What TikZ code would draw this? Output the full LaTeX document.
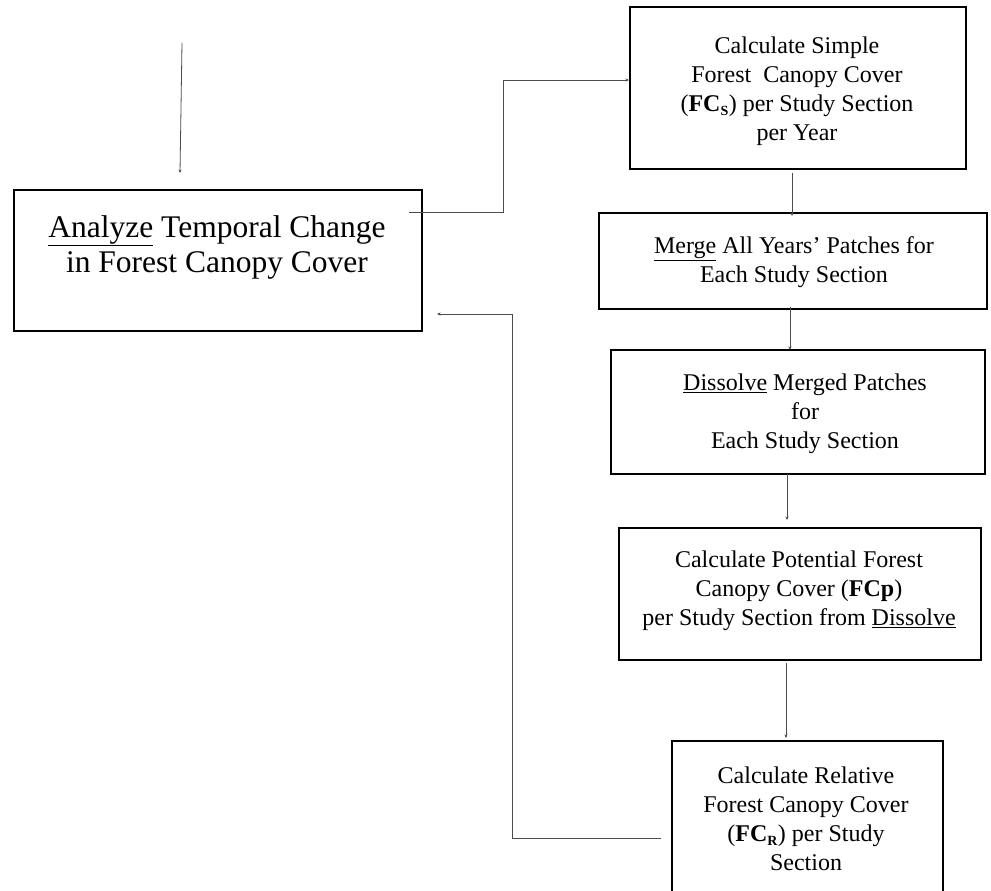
\documentclass[tikz,border=0pt]{standalone}
\usepackage{fontspec}
\setmainfont{Liberation Serif}
\usetikzlibrary{arrows.meta}
\newcommand{\mysub}[1]{\textsubscript{\fontsize{14}{14}\selectfont #1}}
\begin{document}
\begin{tikzpicture}[x=1pt,y=-1pt,
  box/.style={draw, line width=2pt, inner sep=0pt, anchor=north west},
  lbl/.style={align=center, font=\fontsize{24}{29}\selectfont, inner sep=0pt},
  conn/.style={draw=black!70, line width=0.8pt, -{Stealth[length=3.5pt,width=3pt]}}]
\clip (0,0) rectangle (991,891);
\fill[white] (0,0) rectangle (991,891);
% boxes
\node[box, minimum width=408pt, minimum height=141pt] (main) at (13,189) {};
\node[box, minimum width=336pt, minimum height=162pt] (b1) at (629,6) {};
\node[box, minimum width=388pt, minimum height=96pt] (b2) at (598,212) {};
\node[box, minimum width=374pt, minimum height=124pt] (b3) at (610,349) {};
\node[box, minimum width=362pt, minimum height=132pt] (b4) at (618,527) {};
\node[box, minimum width=271pt, minimum height=170pt] (b5) at (671,740) {};
% labels
\node[lbl, font=\fontsize{31.5}{35}\selectfont] (mainlbl) at (217,247)
  {\underline{Analyze} Temporal Change\\in Forest Canopy Cover};
\node[lbl] (l1) at (797,91)
  {Calculate Simple\\Forest~ Canopy Cover\\(\textbf{FC\mysub{S}}) per Study Section\\per Year};
\node[lbl] (l2) at (794,262)
  {\underline{Merge} All Years' Patches for\\Each Study Section};
\node[lbl] (l3) at (805,414)
  {\underline{Dissolve} Merged Patches\\for\\Each Study Section};
\node[lbl] (l4) at (799,591)
  {Calculate Potential Forest\\Canopy Cover (\textbf{FCp})\\per Study Section from \underline{Dissolve}};
\node[lbl] (l5) at (806,819)
  {Calculate Relative\\Forest Canopy Cover\\(\textbf{FC\mysub{R}}) per Study\\Section};
% helper coordinates
\coordinate (t1) at (182,43);
\coordinate (t2) at (180,173);
\coordinate (c2a) at (409,212);
\coordinate (c2b) at (503,212);
\coordinate (c2c) at (503,80);
\coordinate (r1) at (661,838);
\coordinate (r2) at (512,838);
\coordinate (r3) at (512,314);
\coordinate (r4) at (437,314);
\coordinate (xa) at (792,0);
\coordinate (xb) at (790,0);
\coordinate (xc) at (787,0);
\coordinate (xd) at (786,0);
% connectors
\draw[conn] (t1) -- (t2);
\draw[conn] (c2a) -- (c2b) -- (c2c) -- (c2c -| b1.west);
\draw[conn, shorten <=3pt, shorten >=-4pt] (b1.south -| xa) -- (b2.north -| xa);
\draw[conn, shorten <=-3pt, shorten >=-1pt] (b2.south -| xb) -- (b3.north -| xb);
\draw[conn, shorten <=-1pt, shorten >=7pt] (b3.south -| xc) -- (b4.north -| xc);
\draw[conn, shorten <=2pt, shorten >=2pt] (b4.south -| xd) -- (b5.north -| xd);
\draw[conn] (r1) -- (r2) -- (r3) -- (r4);
\end{tikzpicture}
\end{document}
